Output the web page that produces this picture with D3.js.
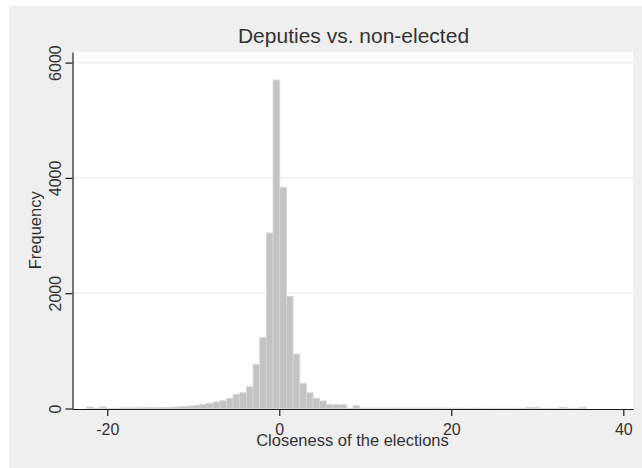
<!DOCTYPE html>
<html>
<head>
<meta charset="utf-8">
<script src="https://cdn.jsdelivr.net/npm/d3@7/dist/d3.min.js"></script>
<style>
  html, body { margin: 0; padding: 0; background: #ffffff; }
  svg { display: block; }
  text { font-family: "Liberation Sans", Arial, sans-serif; fill: #333333; }
</style>
</head>
<body>
<svg id="chart" width="642" height="468"></svg>
<script>
// Histogram of election closeness (deputies vs. non-elected)
const title = "Deputies vs. non-elected";
const xTitle = "Closeness of the elections";
const yTitle = "Frequency";

// Bin layout: left edge of first bin and common bin width
const binStart = -22.42;
const binWidth = 0.775;

// Frequency in each bin, left to right
const counts = [
  25, 5, 25, 4, 4, 10, 10, 12, 12, 14,
  15, 16, 18, 25, 35, 43, 55, 73, 90, 113,
  135, 177, 246, 274, 378, 766, 1228, 3044, 5698, 3837,
  1946, 945, 437, 274, 177, 130, 66, 66, 66, 8,
  49, 8, 8, 8, 8, 8, 8, 8, 8, 8,
  8, 8, 8, 8, 6, 6, 5, 5, 5, 5,
  5, 4, 4, 4, 4, 4, 20, 20, 4, 4,
  4, 20, 4, 4, 20
];

const xTicks = [-20, 0, 20, 40];
const yTicks = [0, 2000, 4000, 6000];
const xDomain = [-24.1, 41.13];
const yDomain = [0, 6184];

const svg = d3.select("#chart");

// Outer graph region
svg.append("rect").attr("x", 9).attr("y", 6).attr("width", 633).attr("height", 462)
  .attr("fill", "#efefef");

const x = d3.scaleLinear().domain(xDomain).range([72, 633]);
const y = d3.scaleLinear().domain(yDomain).range([408.5, 52]);

// Plot region
svg.append("rect")
  .attr("x", x.range()[0]).attr("y", y.range()[1])
  .attr("width", x.range()[1] - x.range()[0])
  .attr("height", y.range()[0] - y.range()[1] + 0.5)
  .attr("fill", "#ffffff");

// Horizontal grid lines
svg.append("g").selectAll("line")
  .data(yTicks.filter(d => d > 0))
  .join("line")
  .attr("x1", x.range()[0]).attr("x2", x.range()[1])
  .attr("y1", d => y(d)).attr("y2", d => y(d))
  .attr("stroke", "#ebebeb").attr("stroke-width", 1.2);

// Bars
const bins = counts.map((c, i) => ({ x0: binStart + i * binWidth, x1: binStart + (i + 1) * binWidth, n: c }));
svg.append("g").selectAll("rect")
  .data(bins.filter(b => b.n > 0))
  .join("rect")
  .attr("x", d => x(d.x0))
  .attr("width", d => x(d.x1) - x(d.x0))
  .attr("y", d => y(d.n))
  .attr("height", d => y(0) - y(d.n))
  .attr("fill", "#c3c3c3")
  .attr("stroke", "#d6d6d6")
  .attr("stroke-width", 0.8);

// Y axis
const yAxis = svg.append("g")
  .attr("transform", `translate(${x.range()[0] + 0.5},0)`)
  .call(d3.axisLeft(y).tickValues(yTicks).tickSize(7).tickSizeOuter(0).tickFormat(d3.format("d")));
yAxis.select(".domain").attr("stroke", "#1a1a1a").attr("stroke-width", 1.2);
yAxis.selectAll(".tick line").attr("stroke", "#1a1a1a").attr("stroke-width", 1.2);
yAxis.selectAll(".tick text")
  .attr("x", 0).attr("dy", null)
  .attr("transform", "translate(-12,0) rotate(-90)")
  .attr("text-anchor", "middle")
  .attr("font-size", 16)
  .style("font-family", "'Liberation Sans', Arial, sans-serif")
  .attr("fill", "#333");

// X axis
const xAxis = svg.append("g")
  .attr("transform", `translate(0,${y(0) + 0.5})`)
  .call(d3.axisBottom(x).tickValues(xTicks).tickSize(7).tickSizeOuter(0).tickFormat(d3.format("d")));
xAxis.select(".domain").attr("stroke", "#1a1a1a").attr("stroke-width", 1.2);
xAxis.selectAll(".tick line").attr("stroke", "#1a1a1a").attr("stroke-width", 1.2);
xAxis.selectAll(".tick text")
  .attr("y", 26).attr("dy", null)
  .attr("font-size", 16)
  .style("font-family", "'Liberation Sans', Arial, sans-serif")
  .attr("fill", "#333")
  .text(d => d < 0 ? "-" + Math.abs(d) : d);

// Titles
const cx = (x.range()[0] + x.range()[1]) / 2;
const cy = (y.range()[0] + y.range()[1]) / 2;
svg.append("text").attr("x", cx + 1).attr("y", 43)
  .attr("text-anchor", "middle").attr("font-size", 21).text(title);
svg.append("text").attr("x", cx).attr("y", 446)
  .attr("text-anchor", "middle").attr("font-size", 16.5).text(xTitle);
svg.append("text")
  .attr("transform", `translate(41,${cy}) rotate(-90)`)
  .attr("text-anchor", "middle").attr("font-size", 16.5).text(yTitle);
</script>
</body>
</html>
